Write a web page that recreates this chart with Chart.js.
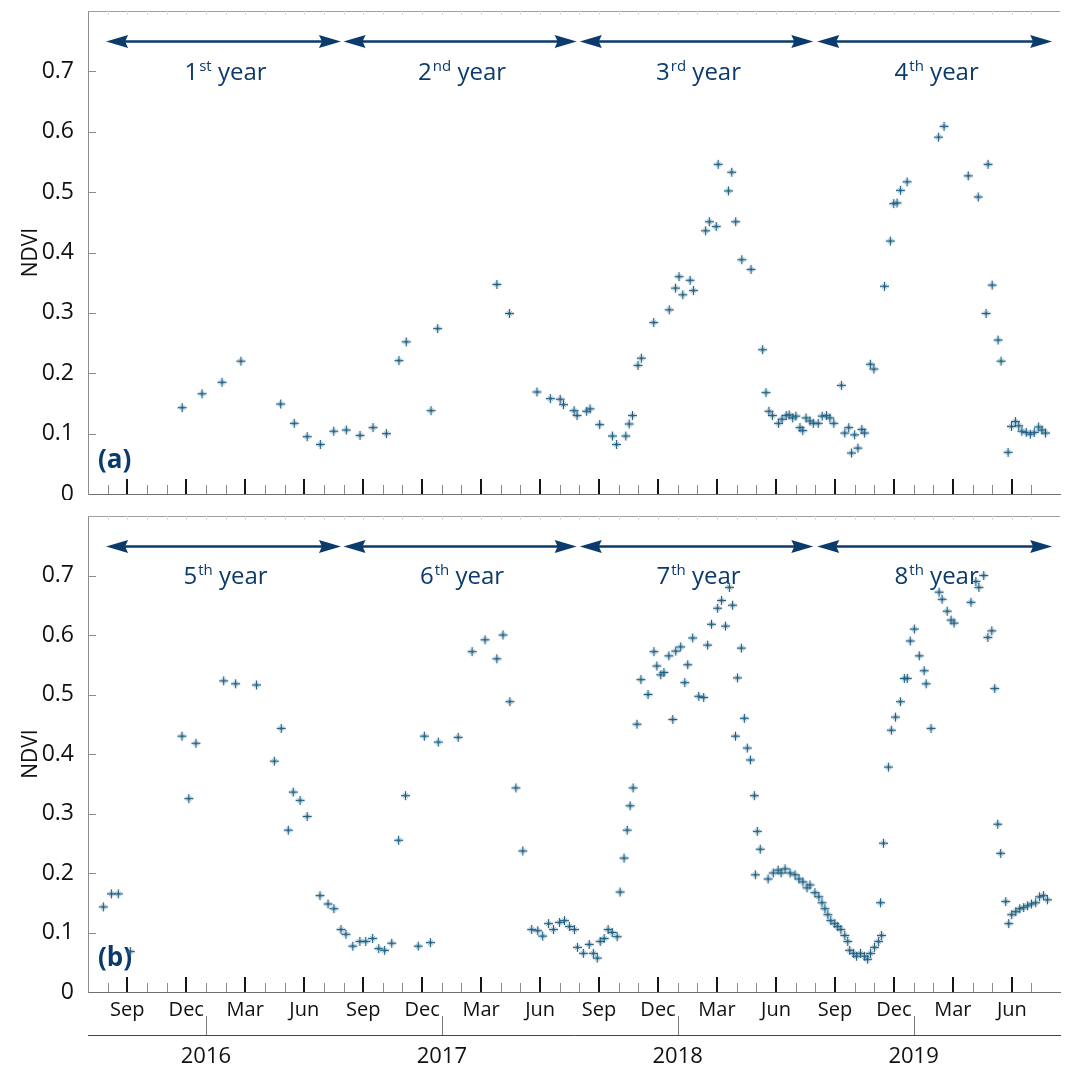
<!DOCTYPE html>
<html>
<head>
<meta charset="utf-8">
<title>NDVI time series</title>
<script src="https://cdn.jsdelivr.net/npm/chart.js@4.4.1/dist/chart.umd.min.js"></script>
<style>
  html, body { margin: 0; padding: 0; background: #ffffff; }
  #wrap { position: relative; width: 1066px; height: 1066px; overflow: hidden; }
  #wrap canvas { position: absolute; left: 0; }
  #ca { top: 0; }
  #cb { top: 500px; }
</style>
</head>
<body>
<div id="wrap">
  <canvas id="ca" width="1066" height="500"></canvas>
  <canvas id="cb" width="1066" height="566"></canvas>
</div>
<script>
// Time is counted in months from 1 July 2015.
const monthLabels = ['Sep', 'Dec', 'Mar', 'Jun'];
const yearLabels = ['2016', '2017', '2018', '2019'];
const quarterTicks = [2, 5, 8, 11, 14, 17, 20, 23, 26, 29, 32, 35, 38, 41, 44, 47];
const yearTicks = [6, 18, 30, 42];
const ndviTicks = [0, 0.1, 0.2, 0.3, 0.4, 0.5, 0.6, 0.7];

// Growing seasons (July to July)
const seasonNamesA = [['1', 'st'], ['2', 'nd'], ['3', 'rd'], ['4', 'th']];
const seasonNamesB = [['5', 'th'], ['6', 'th'], ['7', 'th'], ['8', 'th']];
const seasonStart = [0.92, 13.0, 25.02, 37.1];
const seasonEnd = [12.87, 24.86, 36.9, 49.05];

// Panel (a)
const tA = [4.79, 5.80, 6.82, 7.78, 9.80, 10.49, 11.15, 11.82, 12.50, 13.14, 13.84, 14.50, 15.18,
  15.82, 16.19, 17.45, 17.79, 20.80, 21.44, 22.84, 23.52, 24.02, 24.19, 24.73, 24.88, 25.37, 25.54,
  26.03, 26.68, 26.89, 27.36, 27.53, 27.70, 27.98, 28.15, 28.78, 29.57, 29.89, 30.07, 30.26, 30.63,
  30.80, 31.42, 31.61, 31.96, 32.06, 32.58, 32.75, 32.95, 33.26, 33.73, 34.32, 34.49, 34.64, 34.82,
  35.13, 35.31, 35.52, 35.67, 35.85, 36.01, 36.22, 36.36, 36.53, 36.73, 36.90, 37.15, 37.35, 37.57,
  37.74, 37.94, 38.33, 38.50, 38.70, 38.84, 39.00, 39.17, 39.37, 39.51, 39.80, 39.98, 40.52, 40.82,
  40.99, 41.16, 41.33, 41.67, 43.27, 43.55, 44.78, 45.29, 45.69, 45.79, 46.00, 46.30, 46.45, 46.81,
  46.98, 47.18, 47.35, 47.51, 47.73, 47.94, 48.14, 48.36, 48.53, 48.71];
const ndviA = [0.143, 0.166, 0.185, 0.220, 0.149, 0.117, 0.095, 0.082, 0.104, 0.106, 0.097, 0.110, 0.100,
  0.221, 0.252, 0.138, 0.274, 0.347, 0.299, 0.169, 0.158, 0.157, 0.148, 0.138, 0.130, 0.137, 0.141,
  0.115, 0.096, 0.082, 0.096, 0.116, 0.130, 0.213, 0.225, 0.284, 0.305, 0.341, 0.360, 0.330, 0.354,
  0.337, 0.436, 0.451, 0.443, 0.546, 0.502, 0.533, 0.451, 0.388, 0.372, 0.239, 0.168, 0.137, 0.130,
  0.117, 0.124, 0.130, 0.131, 0.126, 0.129, 0.110, 0.105, 0.126, 0.121, 0.117, 0.117, 0.129, 0.130,
  0.126, 0.117, 0.180, 0.101, 0.110, 0.068, 0.098, 0.076, 0.107, 0.101, 0.215, 0.207, 0.344, 0.419,
  0.481, 0.482, 0.503, 0.517, 0.591, 0.609, 0.527, 0.492, 0.299, 0.546, 0.346, 0.255, 0.220, 0.069,
  0.112, 0.120, 0.113, 0.104, 0.102, 0.099, 0.102, 0.111, 0.106, 0.101];

// Panel (b)
const tB = [0.78, 1.19, 1.54, 2.15, 4.78, 5.13, 5.49, 6.90, 7.51, 8.57, 9.48, 9.83, 10.19, 10.44, 10.79,
  11.15, 11.80, 12.21, 12.51, 12.87, 13.12, 13.47, 13.83, 14.13, 14.48, 14.79, 15.09, 15.45, 15.80,
  16.15, 16.80, 17.11, 17.42, 17.82, 18.83, 19.54, 20.20, 20.80, 21.11, 21.46, 21.77, 22.12, 22.57,
  22.88, 23.13, 23.43, 23.68, 23.99, 24.24, 24.49, 24.75, 24.90, 25.20, 25.50, 25.71, 25.91, 26.06,
  26.26, 26.46, 26.67, 26.92, 27.07, 27.27, 27.43, 27.58, 27.73, 27.93, 28.13, 28.49, 28.79, 28.94,
  29.14, 29.30, 29.55, 29.75, 29.90, 30.15, 30.36, 30.51, 30.76, 31.07, 31.32, 31.52, 31.72, 32.03,
  32.23, 32.43, 32.63, 32.79, 32.94, 33.04, 33.24, 33.39, 33.54, 33.70, 33.90, 33.95, 34.05, 34.20,
  34.60, 34.86, 35.11, 35.26, 35.46, 35.72, 35.97, 36.17, 36.37, 36.58, 36.73, 36.98, 37.18, 37.34,
  37.49, 37.64, 37.79, 37.99, 38.14, 38.30, 38.50, 38.65, 38.75, 38.95, 39.10, 39.30, 39.51, 39.66,
  39.81, 40.01, 40.22, 40.32, 40.37, 40.47, 40.72, 40.87, 41.08, 41.33, 41.53, 41.68, 41.83, 42.04,
  42.29, 42.54, 42.64, 42.89, 43.30, 43.45, 43.71, 43.91, 44.06, 44.92, 45.17, 45.32, 45.57, 45.78,
  45.98, 46.13, 46.28, 46.43, 46.69, 46.84, 46.99, 47.20, 47.40, 47.60, 47.80, 48.00, 48.21, 48.41,
  48.61, 48.81];
const ndviB = [0.143, 0.165, 0.165, 0.068, 0.430, 0.325, 0.418, 0.523, 0.518, 0.516, 0.388, 0.443, 0.272,
  0.336, 0.322, 0.295, 0.162, 0.148, 0.140, 0.105, 0.097, 0.077, 0.085, 0.085, 0.090, 0.073, 0.070,
  0.082, 0.255, 0.330, 0.077, 0.430, 0.083, 0.420, 0.428, 0.572, 0.592, 0.560, 0.600, 0.488, 0.343,
  0.237, 0.105, 0.103, 0.094, 0.115, 0.105, 0.117, 0.120, 0.110, 0.105, 0.075, 0.065, 0.080, 0.065,
  0.057, 0.085, 0.090, 0.105, 0.100, 0.093, 0.168, 0.225, 0.272, 0.313, 0.343, 0.450, 0.525, 0.500,
  0.572, 0.548, 0.533, 0.537, 0.565, 0.458, 0.573, 0.580, 0.520, 0.550, 0.595, 0.497, 0.495, 0.583,
  0.618, 0.645, 0.658, 0.615, 0.680, 0.650, 0.430, 0.528, 0.578, 0.460, 0.410, 0.390, 0.330, 0.197,
  0.270, 0.240, 0.190, 0.200, 0.205, 0.200, 0.207, 0.200, 0.197, 0.190, 0.185, 0.175, 0.180, 0.167,
  0.160, 0.150, 0.140, 0.130, 0.120, 0.115, 0.110, 0.105, 0.095, 0.085, 0.070, 0.065, 0.060, 0.065,
  0.060, 0.055, 0.065, 0.075, 0.085, 0.150, 0.095, 0.250, 0.378, 0.440, 0.462, 0.488, 0.527, 0.527,
  0.590, 0.610, 0.565, 0.540, 0.518, 0.443, 0.672, 0.660, 0.640, 0.625, 0.620, 0.655, 0.690, 0.680,
  0.700, 0.596, 0.607, 0.510, 0.282, 0.233, 0.152, 0.115, 0.130, 0.135, 0.140, 0.142, 0.145, 0.148,
  0.150, 0.160, 0.162, 0.155];

const T_MIN = 0, T_MAX = 49.45;
const FONT = "'Open Sans', 'Noto Sans', 'DejaVu Sans', sans-serif";
const NAVY = '#0b3a6c';
const monthTicks = Array.from({ length: 48 }, (_, i) => i + 1);

// Asterisk-like marker: a plus sign with a light diagonal cross
function makeMarker() {
  const c = document.createElement('canvas');
  c.width = 11; c.height = 11;
  const g = c.getContext('2d');
  g.strokeStyle = 'rgba(70,150,180,0.6)'; g.lineWidth = 1;
  g.beginPath();
  g.moveTo(3, 3); g.lineTo(8, 8);
  g.moveTo(8, 3); g.lineTo(3, 8);
  g.stroke();
  g.strokeStyle = '#245f80'; g.lineWidth = 1.3;
  g.beginPath();
  g.moveTo(5.5, 1); g.lineTo(5.5, 10);
  g.moveTo(1, 5.5); g.lineTo(10, 5.5);
  g.stroke();
  return c;
}
const marker = makeMarker();

function seg(ctx, x1, y1, x2, y2) {
  ctx.beginPath(); ctx.moveTo(x1, y1); ctx.lineTo(x2, y2); ctx.stroke();
}

function drawArrow(ctx, x1, x2, y) {
  const hl = 22, hw = 6.5;
  ctx.strokeStyle = NAVY; ctx.fillStyle = NAVY; ctx.lineWidth = 2.4;
  seg(ctx, x1 + hl - 4, y, x2 - hl + 4, y);
  ctx.beginPath();
  ctx.moveTo(x1, y); ctx.lineTo(x1 + hl, y - hw); ctx.lineTo(x1 + hl - 3, y); ctx.lineTo(x1 + hl, y + hw);
  ctx.closePath(); ctx.fill();
  ctx.beginPath();
  ctx.moveTo(x2, y); ctx.lineTo(x2 - hl, y - hw); ctx.lineTo(x2 - hl + 3, y); ctx.lineTo(x2 - hl, y + hw);
  ctx.closePath(); ctx.fill();
}

function drawSeasonName(ctx, cx, baseline, num, suf) {
  const big = `24px ${FONT}`, small = `15px ${FONT}`;
  ctx.font = big; const w1 = ctx.measureText(num).width; const w3 = ctx.measureText(' year').width;
  ctx.font = small; const w2 = ctx.measureText(suf).width + 1;
  const x = cx - (w1 + w2 + w3) / 2;
  ctx.fillStyle = NAVY; ctx.textAlign = 'left'; ctx.textBaseline = 'alphabetic';
  ctx.font = big; ctx.fillText(num, x, baseline);
  ctx.font = small; ctx.fillText(suf, x + w1 + 1, baseline - 9);
  ctx.font = big; ctx.fillText(' year', x + w1 + w2, baseline);
}

// Frame details, inward tick marks, season arrows and panel tag
const panelDecor = {
  id: 'panelDecor',
  beforeDatasetsDraw(chart, args, opts) {
    const { ctx, chartArea: a, scales } = chart;
    const x = scales.x, y = scales.y;
    ctx.save();
    ctx.lineWidth = 1;
    ctx.strokeStyle = '#a0a0a0';
    seg(ctx, a.left, a.top + 0.5, a.right, a.top + 0.5);
    ctx.strokeStyle = '#dcdcdc';
    monthTicks.forEach(m => {
      const px = Math.round(x.getPixelForValue(m)) + 0.5;
      seg(ctx, px, a.top, px, a.top + 4);
    });
    monthTicks.forEach(m => {
      const major = quarterTicks.includes(m);
      const px = major ? Math.round(x.getPixelForValue(m)) : Math.round(x.getPixelForValue(m)) + 0.5;
      ctx.strokeStyle = major ? '#151515' : '#8a8a8a';
      ctx.lineWidth = major ? 2 : 1;
      seg(ctx, px, a.bottom, px, a.bottom - (major ? 15 : 9));
    });
    ctx.strokeStyle = '#8a8a8a'; ctx.lineWidth = 1;
    ndviTicks.forEach(v => {
      if (v === 0) return;
      const py = Math.round(y.getPixelForValue(v)) + 0.5;
      seg(ctx, a.left, py, a.left + 8, py);
    });
    if (scales.x2) {
      const s2 = scales.x2;
      ctx.strokeStyle = '#7a7a7a';
      yearTicks.forEach(m => {
        const px = Math.round(s2.getPixelForValue(m)) + 0.5;
        seg(ctx, px, s2.top, px, s2.top - 19);
      });
    }
    const arrowY = Math.round(y.getPixelForValue(0.75)) + 0.5;
    const nameY = y.getPixelForValue(0.7) + 8.5;
    opts.seasons.forEach((s, i) => {
      const x1 = x.getPixelForValue(seasonStart[i]);
      const x2 = x.getPixelForValue(seasonEnd[i]);
      drawArrow(ctx, x1, x2, arrowY);
      drawSeasonName(ctx, (x1 + x2) / 2 + 2, nameY, s[0], s[1]);
    });
    ctx.font = `bold 26px ${FONT}`;
    ctx.fillStyle = NAVY; ctx.textAlign = 'left'; ctx.textBaseline = 'alphabetic';
    ctx.fillText(opts.tag, a.left + 10, a.bottom - 26);
    ctx.restore();
  }
};

function fixWidth(w) {
  return s => { s.width = w; s.paddingTop = 0; s.paddingBottom = 0; };
}
function fixHeight(h) {
  return s => { s.height = h; s.paddingLeft = 0; s.paddingRight = 0; };
}

function makePanel(canvasId, t, v, seasons, tag, withLabels) {
  const scales = {
    x: {
      type: 'linear', position: 'bottom', min: T_MIN, max: T_MAX, weight: 0,
      grid: { display: false },
      border: { display: true, color: '#6f6f6f', width: 1 },
      afterBuildTicks: s => { s.ticks = quarterTicks.map(q => ({ value: q })); },
      ticks: {
        display: withLabels, autoSkip: false, maxRotation: 0, minRotation: 0, padding: -2,
        color: '#111', font: { family: FONT, size: 20 },
        callback: (val, i) => monthLabels[i % monthLabels.length]
      },
      afterFit: fixHeight(withLabels ? 43 : 6)
    },
    y: {
      type: 'linear', min: 0, max: 0.8,
      grid: { display: false },
      border: { display: true, color: '#8c8c8c', width: 1 },
      afterBuildTicks: s => { s.ticks = ndviTicks.map(n => ({ value: n })); },
      ticks: {
        padding: 6, color: '#111', font: { family: FONT, size: 23 },
        callback: val => (val === 0 ? '0' : val.toFixed(1))
      },
      title: {
        display: true, text: 'NDVI', color: '#111',
        font: { family: FONT, size: 21 }, padding: { top: 18, bottom: 0 }
      },
      afterFit: fixWidth(88)
    }
  };
  if (withLabels) {
    scales.x2 = {
      type: 'linear', position: 'bottom', min: T_MIN, max: T_MAX, weight: 1,
      grid: { display: false },
      border: { display: true, color: '#444444', width: 1 },
      afterBuildTicks: s => { s.ticks = yearTicks.map(q => ({ value: q })); },
      ticks: {
        autoSkip: false, maxRotation: 0, minRotation: 0, padding: 1,
        color: '#111', font: { family: FONT, size: 22 },
        callback: (val, i) => yearLabels[i]
      },
      afterFit: fixHeight(31)
    };
  }
  return new Chart(document.getElementById(canvasId), {
    type: 'scatter',
    data: {
      datasets: [{
        data: t.map((tt, i) => ({ x: tt, y: v[i] })),
        pointStyle: marker, pointRadius: 5
      }]
    },
    options: {
      responsive: false, animation: false, events: [],
      layout: { padding: { top: withLabels ? 16 : 11, left: 0, right: 0, bottom: 0 } },
      plugins: {
        legend: { display: false }, tooltip: { enabled: false },
        panelDecor: { seasons, tag }
      },
      scales
    },
    plugins: [panelDecor]
  });
}

makePanel('ca', tA, ndviA, seasonNamesA, '(a)', false);
makePanel('cb', tB, ndviB, seasonNamesB, '(b)', true);
</script>
</body>
</html>
